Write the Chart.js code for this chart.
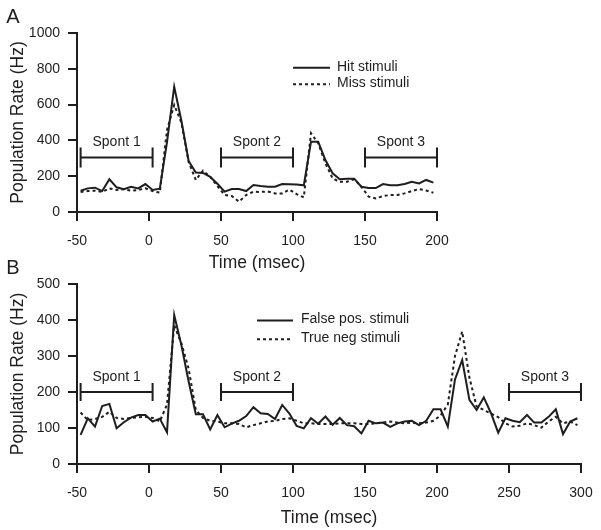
<!DOCTYPE html>
<html><head><meta charset="utf-8">
<script src="https://cdn.jsdelivr.net/npm/chart.js@4.4.1/dist/chart.umd.min.js"></script>
<style>
html,body{margin:0;padding:0;background:#fff;}
#wrap{position:relative;width:601px;height:530px;overflow:hidden;background:#fff;}
canvas{position:absolute;left:0;}
#cA{top:0;}
#cB{top:255px;}
</style></head><body>
<div id="wrap">
<canvas id="cA" width="601" height="280"></canvas>
<canvas id="cB" width="601" height="275"></canvas>
</div>
<script>
// ---------- Panel A data ----------
const timeA = [-47.5,-42.5,-37.5,-32.5,-27.5,-22.5,-17.5,-12.5,-7.5,-2.5,2.5,7.5,12.5,17.5,22.5,27.5,32.5,37.5,42.5,47.5,52.5,57.5,62.5,67.5,72.5,77.5,82.5,87.5,92.5,97.5,102.5,107.5,112.5,117.5,122.5,127.5,132.5,137.5,142.5,147.5,152.5,157.5,162.5,167.5,172.5,177.5,182.5,187.5,192.5,197.5];
const hitA  = [119,132,136,117,183,138,127,141,132,156,123,130,390,700,510,285,220,218,196,158,114,128,128,117,151,145,141,141,156,155,153,149,393,393,290,216,183,186,186,141,134,134,156,149,149,156,169,160,179,164];
const missA = [112,117,119,112,132,123,127,119,123,132,117,108,458,598,500,281,179,231,197,145,95,89,58,95,113,112,115,104,104,125,100,82,440,384,272,188,169,169,183,141,86,76,89,95,95,104,117,128,120,108];
const xTicksA = [-50,0,50,100,150,200];
const yTicksA = [0,200,400,600,800,1000];
const spontStartA = [-47.5,50,150];
const spontEndA   = [2.5,100,200];
const spontLevelA = 305;

// ---------- Panel B data ----------
const timeB = [-47.5,-42.5,-37.5,-32.5,-27.5,-22.5,-17.5,-12.5,-7.5,-2.5,2.5,7.5,12.5,17.5,22.5,27.5,32.5,37.5,42.5,47.5,52.5,57.5,62.5,67.5,72.5,77.5,82.5,87.5,92.5,97.5,102.5,107.5,112.5,117.5,122.5,127.5,132.5,137.5,142.5,147.5,152.5,157.5,162.5,167.5,172.5,177.5,182.5,187.5,192.5,197.5,202.5,207.5,212.5,217.5,222.5,227.5,232.5,237.5,242.5,247.5,252.5,257.5,262.5,267.5,272.5,277.5,282.5,287.5,292.5,297.5];
const falsePosB = [81,127,104,161,167,99,116,129,136,136,118,126,88,414,330,230,138,138,96,136,102,112,120,133,158,141,139,125,164,140,106,99,127,112,132,109,128,108,105,85,120,113,115,103,113,118,120,108,120,152,152,104,235,289,178,150,185,141,87,127,120,116,136,115,115,131,152,83,118,127];
const trueNegB  = [143,122,125,131,145,128,125,128,130,131,128,118,165,385,335,265,150,128,120,118,113,113,111,102,108,113,118,120,125,127,120,113,113,111,111,111,113,113,113,111,111,113,115,118,115,113,115,113,115,120,135,165,300,368,240,160,150,140,130,113,104,106,113,108,101,118,131,113,118,108];
const xTicksB = [-50,0,50,100,150,200,250,300];
const yTicksB = [0,100,200,300,400,500];
const spontStartB = [-47.5,50,250];
const spontEndB   = [2.5,100,300];
const spontLevelB = 200;
const spontLabels = ['Spont 1','Spont 2','Spont 3'];

const INK = '#1f1d1e';
const FONT = "'Liberation Sans', Arial, Helvetica, sans-serif";

const annot = {
  id: 'annot',
  afterDatasetsDraw(chart, args, o) {
    const {ctx} = chart;
    const xs = chart.scales.x, ys = chart.scales.y;
    ctx.save();
    ctx.strokeStyle = INK; ctx.fillStyle = INK; ctx.lineWidth = 2;
    ctx.font = '14px ' + FONT;
    // spont brackets
    o.starts.forEach((s, i) => {
      const x0 = xs.getPixelForValue(s), x1 = xs.getPixelForValue(o.ends[i]);
      const yy = ys.getPixelForValue(o.level);
      ctx.beginPath();
      ctx.moveTo(x0, yy); ctx.lineTo(x1, yy);
      ctx.moveTo(x0, yy - o.cap); ctx.lineTo(x0, yy + o.cap);
      ctx.moveTo(x1, yy - o.cap); ctx.lineTo(x1, yy + o.cap);
      ctx.stroke();
      ctx.textAlign = 'center'; ctx.textBaseline = 'middle';
      ctx.fillText(o.labels[i], (x0 + x1) / 2, yy - o.labelGap);
    });
    // legend
    chart.data.datasets.forEach((ds, i) => {
      const ly = o.legY[i];
      ctx.beginPath();
      ctx.setLineDash(ds.borderDash || []);
      ctx.lineWidth = 2;
      ctx.moveTo(o.legX0, ly); ctx.lineTo(o.legX1, ly);
      ctx.stroke();
      ctx.setLineDash([]);
      ctx.textAlign = 'left'; ctx.textBaseline = 'middle';
      ctx.fillText(ds.label, o.legText, ly - 1);
    });
    // panel letter
    ctx.font = '20px ' + FONT;
    ctx.textAlign = 'center'; ctx.textBaseline = 'middle';
    ctx.fillText(o.panel, 13, o.panelY);
    ctx.restore();
  }
};

function axisCommon() {
  return {
    grid: {display: true, drawOnChartArea: false, drawTicks: true, tickLength: 9, lineWidth: 2, color: INK},
    border: {display: true, width: 2, color: INK},
  };
}

function makeChart(id, c) {
  return new Chart(document.getElementById(id), {
    type: 'line',
    data: {
      datasets: [
        {label: c.names[0], data: c.t.map((t, i) => ({x: t, y: c.s1[i]})), borderColor: INK, borderWidth: 2, pointRadius: 0, tension: 0, fill: false},
        {label: c.names[1], data: c.t.map((t, i) => ({x: t, y: c.s2[i]})), borderColor: INK, borderWidth: 2, borderDash: [3, 3], pointRadius: 0, tension: 0, fill: false}
      ]
    },
    options: {
      responsive: false, animation: false, devicePixelRatio: 1,
      layout: {padding: {left: 0, right: c.padRight, top: c.padTop, bottom: 0}},
      plugins: {legend: {display: false}, tooltip: {enabled: false},
        annot: {starts: c.spStart, ends: c.spEnd, level: c.spLevel, labels: spontLabels, cap: c.cap, labelGap: 15,
                legX0: c.legX0, legX1: c.legX1, legText: c.legText, legY: c.legY, panel: c.panel, panelY: c.panelY}},
      scales: {
        x: Object.assign(axisCommon(), {
          type: 'linear', min: c.xTicks[0], max: c.xTicks[c.xTicks.length - 1],
          afterBuildTicks: s => { s.ticks = c.xTicks.map(v => ({value: v})); },
          afterFit: s => { s.height = c.xH; s.paddingLeft = 0; s.paddingRight = 0; },
          ticks: {font: {family: FONT, size: 14}, color: INK, padding: 12, maxRotation: 0, autoSkip: false, callback: v => String(v)},
          title: {display: true, text: 'Time (msec)', font: {family: FONT, size: 17.5}, color: INK, padding: {top: 0, bottom: c.xTitlePad}}
        }),
        y: Object.assign(axisCommon(), {
          type: 'linear', min: c.yTicks[0], max: c.yTicks[c.yTicks.length - 1],
          afterBuildTicks: s => { s.ticks = c.yTicks.map(v => ({value: v})); },
          afterFit: s => { s.width = 77; s.paddingTop = 0; s.paddingBottom = 0; },
          ticks: {font: {family: FONT, size: 14}, color: INK, padding: 8, autoSkip: false, callback: v => String(v)},
          title: {display: true, text: 'Population Rate (Hz)', font: {family: FONT, size: 17.5}, color: INK, padding: {top: 7.5, bottom: 0}}
        })
      }
    },
    plugins: [annot]
  });
}

makeChart('cA', {
  t: timeA, s1: hitA, s2: missA, names: ['Hit stimuli', 'Miss stimuli'],
  xTicks: xTicksA, yTicks: yTicksA, padRight: 164, padTop: 33, xH: 68, xTitlePad: 6.5,
  spStart: spontStartA, spEnd: spontEndA, spLevel: spontLevelA, cap: 10,
  legX0: 293, legX1: 330, legText: 337, legY: [67.7, 84.3], panel: 'A', panelY: 17
});
makeChart('cB', {
  t: timeB, s1: falsePosB, s2: trueNegB, names: ['False pos. stimuli', 'True neg stimuli'],
  xTicks: xTicksB, yTicks: yTicksB, padRight: 20, padTop: 29, xH: 66, xTitlePad: 1.5,
  spStart: spontStartB, spEnd: spontEndB, spLevel: spontLevelB, cap: 9,
  legX0: 257, legX1: 293, legText: 301, legY: [65.5, 84.3], panel: 'B', panelY: 13
});
</script>
</body></html>
